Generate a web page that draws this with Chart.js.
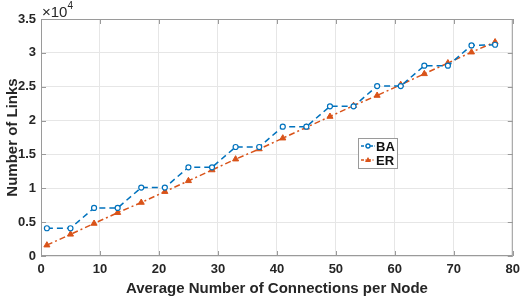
<!DOCTYPE html>
<html><head><meta charset="utf-8">
<script src="https://cdn.jsdelivr.net/npm/chart.js@4.4.1/dist/chart.umd.min.js"></script>
<style>html,body{margin:0;padding:0;background:#fff}#wrap{width:526px;height:298px}</style>
</head><body><div id="wrap"><canvas id="c" width="526" height="298"></canvas></div>
<script>
const xValues = [1,5,9,13,17,21,25,29,33,37,41,45,49,53,57,61,65,69,73,77];
const baLinks = [4100,4100,7100,7100,10100,10100,13100,13100,16100,16100,19100,19100,22100,22100,25100,25100,28100,28100,31100,31200];
const erLinks = [1600,3200,4800,6400,7900,9500,11100,12700,14300,15800,17400,19000,20600,22200,23700,25300,26900,28500,30100,31600];
const xTicks = [0,10,20,30,40,50,60,70,80];
const yTicks = [0,5000,10000,15000,20000,25000,30000,35000];
const seriesNames = ['BA','ER'];
const BLUE = '#0072BD', ORANGE = '#D95319';
const FONT = 'Liberation Sans, Arial, sans-serif';

const boxPlugin = {
  id: 'box',
  afterDatasetsDraw(chart) {
    const {ctx, chartArea: a, scales} = chart;
    ctx.save();
    ctx.strokeStyle = '#9a9a9a';
    ctx.lineWidth = 1;
    ctx.strokeRect(a.left + 0.5, a.top + 0.5, a.right - a.left - 1, a.bottom - a.top - 1);
    ctx.beginPath();
    xTicks.forEach(v => {
      const x = Math.round(scales.x.getPixelForValue(v)) + 0.5;
      ctx.moveTo(x, a.bottom); ctx.lineTo(x, a.bottom - 5);
      ctx.moveTo(x, a.top); ctx.lineTo(x, a.top + 5);
    });
    yTicks.forEach(v => {
      const y = Math.round(scales.y.getPixelForValue(v)) + 0.5;
      ctx.moveTo(a.left, y); ctx.lineTo(a.left + 5, y);
      ctx.moveTo(a.right, y); ctx.lineTo(a.right - 5, y);
    });
    ctx.stroke();
    ctx.fillStyle = '#262626';
    ctx.textBaseline = 'alphabetic';
    ctx.textAlign = 'left';
    ctx.font = '15px ' + FONT;
    ctx.fillText('\u00d710', a.left + 1, a.top - 2);
    const w = ctx.measureText('\u00d710').width;
    ctx.font = '10px ' + FONT;
    ctx.fillText('4', a.left + 1 + w, a.top - 10);
    const lx = 358, ly = 138, lw = 39, lh = 30;
    ctx.fillStyle = '#fff';
    ctx.fillRect(lx, ly, lw, lh);
    ctx.strokeStyle = '#9a9a9a';
    ctx.strokeRect(lx + 0.5, ly + 0.5, lw, lh);
    const rows = [{c: BLUE, y: ly + 8, dash: [3, 1.5], m: 'circle'}, {c: ORANGE, y: ly + 22, dash: [3, 1.5, 1, 1.5], m: 'tri'}];
    rows.forEach((r, i) => {
      ctx.strokeStyle = r.c; ctx.lineWidth = 1.3; ctx.setLineDash(r.dash);
      ctx.beginPath(); ctx.moveTo(lx + 3, r.y); ctx.lineTo(lx + 17, r.y); ctx.stroke();
      ctx.setLineDash([]);
      if (r.m === 'circle') {
        ctx.fillStyle = '#fff'; ctx.beginPath(); ctx.arc(lx + 10, r.y, 2, 0, Math.PI * 2); ctx.fill(); ctx.stroke();
      } else {
        ctx.fillStyle = r.c; ctx.beginPath(); ctx.moveTo(lx + 10, r.y - 3); ctx.lineTo(lx + 13, r.y + 2); ctx.lineTo(lx + 7, r.y + 2); ctx.closePath(); ctx.fill();
      }
      ctx.fillStyle = '#111'; ctx.font = 'bold 13px ' + FONT; ctx.textBaseline = 'middle';
      ctx.fillText(seriesNames[i], lx + 18, r.y + 1);
    });
    ctx.restore();
  }
};

new Chart(document.getElementById('c'), {
  type: 'line',
  data: {
    datasets: [
      {label: seriesNames[0], data: xValues.map((x, i) => ({x, y: baLinks[i]})),
       borderColor: BLUE, backgroundColor: '#fff', borderWidth: 1.5, borderDash: [6, 4],
       pointStyle: 'circle', pointRadius: 2.5, pointBorderWidth: 1.2, pointBackgroundColor: '#fff', pointBorderColor: BLUE, tension: 0},
      {label: seriesNames[1], data: xValues.map((x, i) => ({x, y: erLinks[i]})),
       borderColor: ORANGE, backgroundColor: ORANGE, borderWidth: 1.5, borderDash: [6, 3, 2, 3],
       pointStyle: 'triangle', pointRadius: 3.5, pointBorderWidth: 1, pointBackgroundColor: ORANGE, pointBorderColor: ORANGE, tension: 0}
    ]
  },
  options: {
    responsive: false, animation: false, devicePixelRatio: 1,
    layout: {padding: {top: 19, right: 9, left: 0, bottom: 0}},
    plugins: {legend: {display: false}, tooltip: {enabled: false}},
    scales: {
      x: {type: 'linear', min: 0, max: 80,
          afterBuildTicks(s) { s.ticks = xTicks.map(v => ({value: v})); },
          afterFit(s) { s.height = 42; },
          grid: {color: '#e6e6e6', drawTicks: false},
          border: {display: false},
          ticks: {color: '#262626', font: {family: FONT, size: 13, weight: 'bold'}, padding: 6, maxRotation: 0},
          title: {display: true, text: 'Average Number of Connections per Node', color: '#262626', font: {family: FONT, size: 15, weight: 'bold'}, padding: {top: 0, bottom: 0}}},
      y: {type: 'linear', min: 0, max: 35000,
          afterBuildTicks(s) { s.ticks = yTicks.map(v => ({value: v})); },
          afterFit(s) { s.width = 41; },
          grid: {color: '#e6e6e6', drawTicks: false},
          border: {display: false},
          ticks: {color: '#262626', font: {family: FONT, size: 13, weight: 'bold'}, padding: 5, callback: v => String(v / 10000)},
          title: {display: true, text: 'Number of Links', color: '#262626', font: {family: FONT, size: 15, weight: 'bold'}, padding: {top: 4, bottom: 0}}}
    }
  },
  plugins: [boxPlugin]
});
</script></body></html>
